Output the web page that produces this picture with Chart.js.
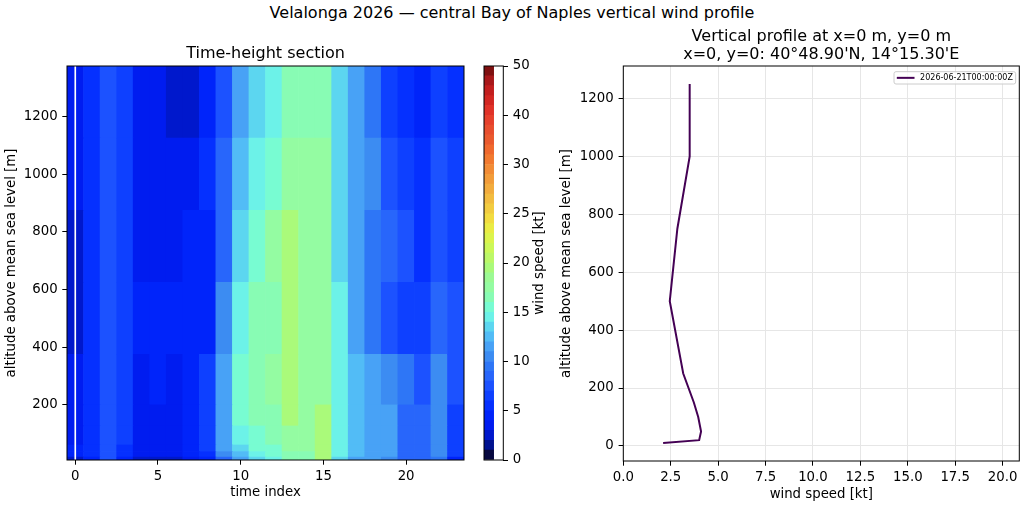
<!DOCTYPE html>
<html>
<head>
<meta charset="utf-8">
<title>Velalonga 2026 vertical wind profile</title>
<script src="https://cdn.jsdelivr.net/npm/chart.js@4.4.1/dist/chart.umd.min.js"></script>
<style>
  html, body { margin: 0; padding: 0; background: #fff; }
  #page { position: relative; width: 1024px; height: 507px; overflow: hidden; }
  #suptitle { position: absolute; left: 0; top: 3px; width: 1024px; text-align: center;
    font: 16px "DejaVu Sans", sans-serif; line-height: 20px; color: #000; }
  canvas { position: absolute; top: 0; }
</style>
</head>
<body>
<div id="page">
  <div id="suptitle">Velalonga 2026 — central Bay of Naples vertical wind profile</div>
  <canvas id="section" width="472" height="507" style="left:0"></canvas>
  <canvas id="colorbar" width="80" height="507" style="left:476px"></canvas>
  <canvas id="profile" width="468" height="507" style="left:556px"></canvas>
</div>
<script>
// ---- data ----
const timeIndex = [0, 1, 2, 3, 4, 5, 6, 7, 8, 9, 10, 11, 12, 13, 14, 15, 16, 17, 18, 19, 20, 21, 22, 23];
const nowIndex = 0;
const profileTime = "2026-06-21T00:00:00Z";

// model levels (m) and the cell edges of the section
const levelHeights = [10, 20, 50, 100, 150, 250, 500, 750, 1000, 1250];
const cellEdges = [9, 19, 38, 61, 127, 200, 375, 625, 875, 1125, 1375];

// wind speed [kt], one row per level, bottom row first
const speed10m   = [2.1, 4.6, 7.2, 4.4, 2.8, 2.9, 2.7, 3.4, 4.4, 8.6, 11.5, 13.4, 14.3, 16.4, 16.5, 19.4, 13.5, 11.4, 11.3, 10.4, 8.7, 8.5, 9.4, 4.5];
const speed20m   = [4.0, 5.4, 7.3, 5.4, 3.5, 3.4, 3.5, 4.3, 5.4, 10.5, 12.5, 14.4, 15.4, 16.5, 16.4, 19.5, 14.4, 12.4, 11.5, 11.4, 8.5, 8.6, 10.5, 6.4];
const speed50m   = [4.1, 5.4, 7.6, 5.5, 3.5, 3.4, 3.6, 4.5, 6.4, 11.4, 13.5, 15.4, 15.5, 17.6, 17.5, 19.6, 14.5, 12.5, 11.6, 11.4, 8.6, 8.4, 10.4, 6.6];
const speed100m  = [3.95, 5.5, 7.4, 6.5, 3.4, 3.5, 3.5, 4.4, 6.5, 11.6, 14.5, 15.5, 16.5, 17.5, 17.4, 19.5, 14.4, 12.6, 11.4, 11.5, 8.4, 8.5, 10.6, 6.4];
const speed150m  = [3.72, 5.4, 7.5, 6.4, 3.5, 3.4, 3.6, 4.5, 6.4, 11.5, 15.4, 16.5, 16.6, 19.5, 17.6, 19.4, 14.6, 12.4, 11.5, 11.4, 8.5, 8.6, 10.5, 6.5];
const speed250m  = [3.16, 5.5, 7.4, 6.3, 3.6, 4.5, 3.5, 4.4, 6.5, 11.4, 15.5, 16.6, 17.5, 19.6, 17.5, 17.8, 14.5, 12.5, 11.4, 10.5, 9.4, 7.5, 10.4, 7.6];
const speed500m  = [2.45, 5.3, 7.4, 6.4, 4.3, 4.5, 4.4, 4.5, 4.6, 10.4, 14.6, 16.5, 16.4, 19.4, 17.7, 17.6, 14.4, 11.6, 9.5, 7.4, 6.5, 6.4, 8.5, 7.4];
const speed750m  = [2.85, 5.4, 7.5, 6.5, 3.5, 3.4, 3.5, 4.4, 4.6, 8.6, 13.5, 15.4, 17.4, 19.5, 17.6, 17.4, 13.6, 11.5, 9.4, 8.5, 7.2, 5.4, 7.5, 6.5];
const speed1000m = [3.5, 5.3, 7.5, 6.4, 3.5, 3.6, 3.4, 3.3, 5.2, 8.5, 12.4, 14.5, 15.6, 17.4, 17.6, 17.5, 13.5, 11.4, 10.5, 7.3, 6.4, 5.5, 7.6, 6.3];
const speed1250m = [3.5, 5.4, 7.6, 6.5, 3.4, 3.3, 2.6, 2.7, 4.5, 7.4, 11.5, 13.6, 14.5, 16.5, 16.4, 16.6, 13.4, 11.5, 9.3, 6.4, 5.3, 4.6, 6.6, 5.2];
const windSpeed = [speed10m, speed20m, speed50m, speed100m, speed150m, speed250m, speed500m, speed750m, speed1000m, speed1250m];

// colour levels of the colour bar [kt] and its labelled ticks
const cbLevels = [0, 1, 2, 3, 4, 5, 6, 7, 8, 9, 10, 11, 12, 13, 14, 15, 16, 17, 18, 19, 20,
                  21, 22, 23, 24, 25, 26, 27, 28, 29, 30, 32, 34, 36, 38, 40, 42, 44, 46, 48, 50];
const cbTicks = [0, 5, 10, 15, 20, 25, 30, 40, 50];

// tick labels
const altTicks = [200, 400, 600, 800, 1000, 1200];
const profileAltTicks = [0, 200, 400, 600, 800, 1000, 1200];
const profileSpeedTicks = [0, 2.5, 5, 7.5, 10, 12.5, 15, 17.5, 20];

// ---- styling ----
const palette = [
  "#07083f", "#00128f", "#0018cc", "#001cf0", "#0024fa", "#0530ff", "#0e40ff", "#1c52ff",
  "#2866fb", "#2e76f6", "#3c8cf2", "#48a2f6", "#52bcf6", "#5cd6f0", "#6cf2e8", "#78fcd2",
  "#88fcb4", "#94fca2", "#9cfa94", "#aafa7a", "#bcf868", "#ccf858", "#dcf44c", "#eaec44",
  "#f2dc40", "#f2cc40", "#f2bc40", "#f2ac3e", "#f29c3a", "#f28c36", "#f27a30", "#f0692e",
  "#ea5a2e", "#e84e2e", "#e6402c", "#e03228", "#d22622", "#c21e1e", "#a8181a", "#7e1010"
];
const FONT = "'DejaVu Sans', sans-serif";
const TICK = 4.7;

Chart.defaults.font.family = FONT;
Chart.defaults.font.size = 13.3;
Chart.defaults.color = "#000";
Chart.defaults.animation = false;
Chart.defaults.events = [];
Chart.defaults.plugins.legend.display = false;
Chart.defaults.plugins.tooltip.enabled = false;

function bandOf(v) {
    let k = 0;
    while (k < cbLevels.length - 2 && v >= cbLevels[k + 1]) k++;
    return k;
}

// black box round the plot area, like the axes spines
const frame = {
    id: "frame",
    afterDraw(chart) {
        const { ctx, chartArea: a } = chart;
        ctx.save();
        ctx.strokeStyle = "#000";
        ctx.lineWidth = 1;
        ctx.strokeRect(a.left, a.top, a.right - a.left, a.bottom - a.top);
        ctx.restore();
    }
};

function tickGrid(onArea) {
    return {
        display: true,
        drawOnChartArea: onArea,
        drawTicks: true,
        tickLength: TICK,
        tickColor: "#000",
        color: "#e6e6e6",
        lineWidth: 1,
        offset: false
    };
}

// ---- time-height section ----
const rowSets = windSpeed.map((row, r) => ({
    label: levelHeights[r] + " m",
    data: row.map(() => [cellEdges[r], cellEdges[r + 1]]),
    backgroundColor: row.map(v => palette[bandOf(v)]),
    borderWidth: 0,
    grouped: false,
    barPercentage: 1,
    categoryPercentage: 1,
    order: 2
}));
rowSets.push({
    label: "now",
    data: timeIndex.map(t => t === nowIndex ? [cellEdges[0], cellEdges[cellEdges.length - 1]] : null),
    backgroundColor: "#fff",
    borderWidth: 0,
    grouped: false,
    barPercentage: 0.1,
    categoryPercentage: 1,
    order: 0
});

new Chart(document.getElementById("section"), {
    type: "bar",
    data: { labels: timeIndex, datasets: rowSets },
    options: {
        responsive: false,
        layout: { padding: { left: 0, right: 8, top: 0, bottom: 0 } },
        plugins: {
            title: {
                display: true,
                text: "Time-height section",
                fullSize: false,
                font: { size: 16, weight: "normal" },
                padding: { top: 44.2, bottom: 2.6 }
            }
        },
        scales: {
            x: {
                type: "category",
                offset: true,
                grid: tickGrid(false),
                border: { display: false },
                ticks: { padding: 4, maxRotation: 0, autoSkip: false },
                title: { display: true, text: "time index", padding: { top: 0, bottom: 6 } },
                afterBuildTicks: s => { s.ticks = s.ticks.filter(t => t.value % 5 === 0); },
                afterFit: s => { s.height = 47; }
            },
            y: {
                type: "linear",
                min: cellEdges[0],
                max: cellEdges[cellEdges.length - 1],
                grid: tickGrid(false),
                border: { display: false },
                ticks: { padding: 4.7, callback: v => String(v) },
                title: { display: true, text: "altitude above mean sea level [m]", padding: { top: 4, bottom: 0 } },
                afterBuildTicks: s => { s.ticks = altTicks.map(v => ({ value: v })); },
                afterFit: s => { s.width = 67; }
            }
        }
    },
    plugins: [frame]
});

// ---- colour bar ----
const cbLabel = {
    id: "cbLabel",
    afterDraw(chart) {
        const { ctx, chartArea: a } = chart;
        ctx.save();
        ctx.translate(chart.width - 16, (a.top + a.bottom) / 2);
        ctx.rotate(-Math.PI / 2);
        ctx.font = "13.3px " + FONT;
        ctx.fillStyle = "#000";
        ctx.textAlign = "center";
        ctx.textBaseline = "middle";
        ctx.fillText("wind speed [kt]", 0, 0);
        ctx.restore();
    }
};

const bandSets = palette.map((c, k) => ({
    label: cbLevels[k] + "–" + cbLevels[k + 1],
    data: [[k, k + 1]],
    backgroundColor: c,
    borderWidth: 0,
    grouped: false,
    barPercentage: 1,
    categoryPercentage: 1
}));

new Chart(document.getElementById("colorbar"), {
    type: "bar",
    data: { labels: [""], datasets: bandSets },
    options: {
        responsive: false,
        layout: { padding: { left: 8, right: 0, top: 66, bottom: 47 } },
        scales: {
            x: { display: false, offset: false },
            y: {
                position: "right",
                min: 0,
                max: palette.length,
                grid: tickGrid(false),
                border: { display: false },
                ticks: { padding: 4.7, callback: v => String(cbLevels[v]) },
                afterBuildTicks: s => { s.ticks = cbTicks.map(v => ({ value: cbLevels.indexOf(v) })); },
                afterFit: s => { s.width = 52.7; }
            }
        }
    },
    plugins: [frame, cbLabel]
});

// ---- vertical profile at the selected time ----
const cornerLegend = {
    id: "cornerLegend",
    afterDraw(chart) {
        const ds = chart.data.datasets[0];
        const { ctx, chartArea: a } = chart;
        ctx.save();
        ctx.font = "8px " + FONT;
        const tw = ctx.measureText(ds.label).width;
        const h = 12.3, handle = 17.7, pad = 2.8, gap = 5.6;
        const w = pad + handle + gap + tw + pad;
        const x = a.right - 3.6 - w, y = a.top + 5.7;
        ctx.fillStyle = "rgba(255,255,255,0.8)";
        ctx.strokeStyle = "#cccccc";
        ctx.lineWidth = 1;
        ctx.beginPath();
        ctx.roundRect(x, y, w, h, 2);
        ctx.fill();
        ctx.stroke();
        ctx.strokeStyle = ds.borderColor;
        ctx.lineWidth = ds.borderWidth;
        ctx.beginPath();
        ctx.moveTo(x + pad, y + h / 2);
        ctx.lineTo(x + pad + handle, y + h / 2);
        ctx.stroke();
        ctx.fillStyle = "#000";
        ctx.textBaseline = "middle";
        ctx.fillText(ds.label, x + pad + handle + gap, y + h / 2 + 0.5);
        ctx.restore();
    }
};

const profilePoints = levelHeights.map((hgt, r) => ({ x: windSpeed[r][nowIndex], y: hgt }));

new Chart(document.getElementById("profile"), {
    type: "scatter",
    data: {
        datasets: [{
            label: profileTime,
            data: profilePoints,
            showLine: true,
            borderColor: "#440154",
            borderWidth: 2,
            pointRadius: 0,
            tension: 0
        }]
    },
    options: {
        responsive: false,
        layout: { padding: { left: 0, right: 4.7, top: 0, bottom: 0 } },
        plugins: {
            title: {
                display: true,
                text: ["Vertical profile at x=0 m, y=0 m", "x=0, y=0: 40°48.90'N, 14°15.30'E"],
                fullSize: false,
                font: { size: 16, weight: "normal", lineHeight: 1.1 },
                padding: { top: 28, bottom: 2.8 }
            }
        },
        scales: {
            x: {
                type: "linear",
                min: 0,
                max: 20.88,
                grid: tickGrid(true),
                border: { display: false },
                ticks: { padding: 4, maxRotation: 0, callback: v => v.toFixed(1) },
                title: { display: true, text: "wind speed [kt]", padding: { top: 0, bottom: 4 } },
                afterBuildTicks: s => { s.ticks = profileSpeedTicks.map(v => ({ value: v })); },
                afterFit: s => { s.height = 46; }
            },
            y: {
                type: "linear",
                min: -52,
                max: 1312,
                grid: tickGrid(true),
                border: { display: false },
                ticks: { padding: 5, callback: v => String(v) },
                title: { display: true, text: "altitude above mean sea level [m]", padding: { top: 2.7, bottom: 0 } },
                afterBuildTicks: s => { s.ticks = profileAltTicks.map(v => ({ value: v })); },
                afterFit: s => { s.width = 67.3; }
            }
        }
    },
    plugins: [frame, cornerLegend]
});
</script>
</body>
</html>
